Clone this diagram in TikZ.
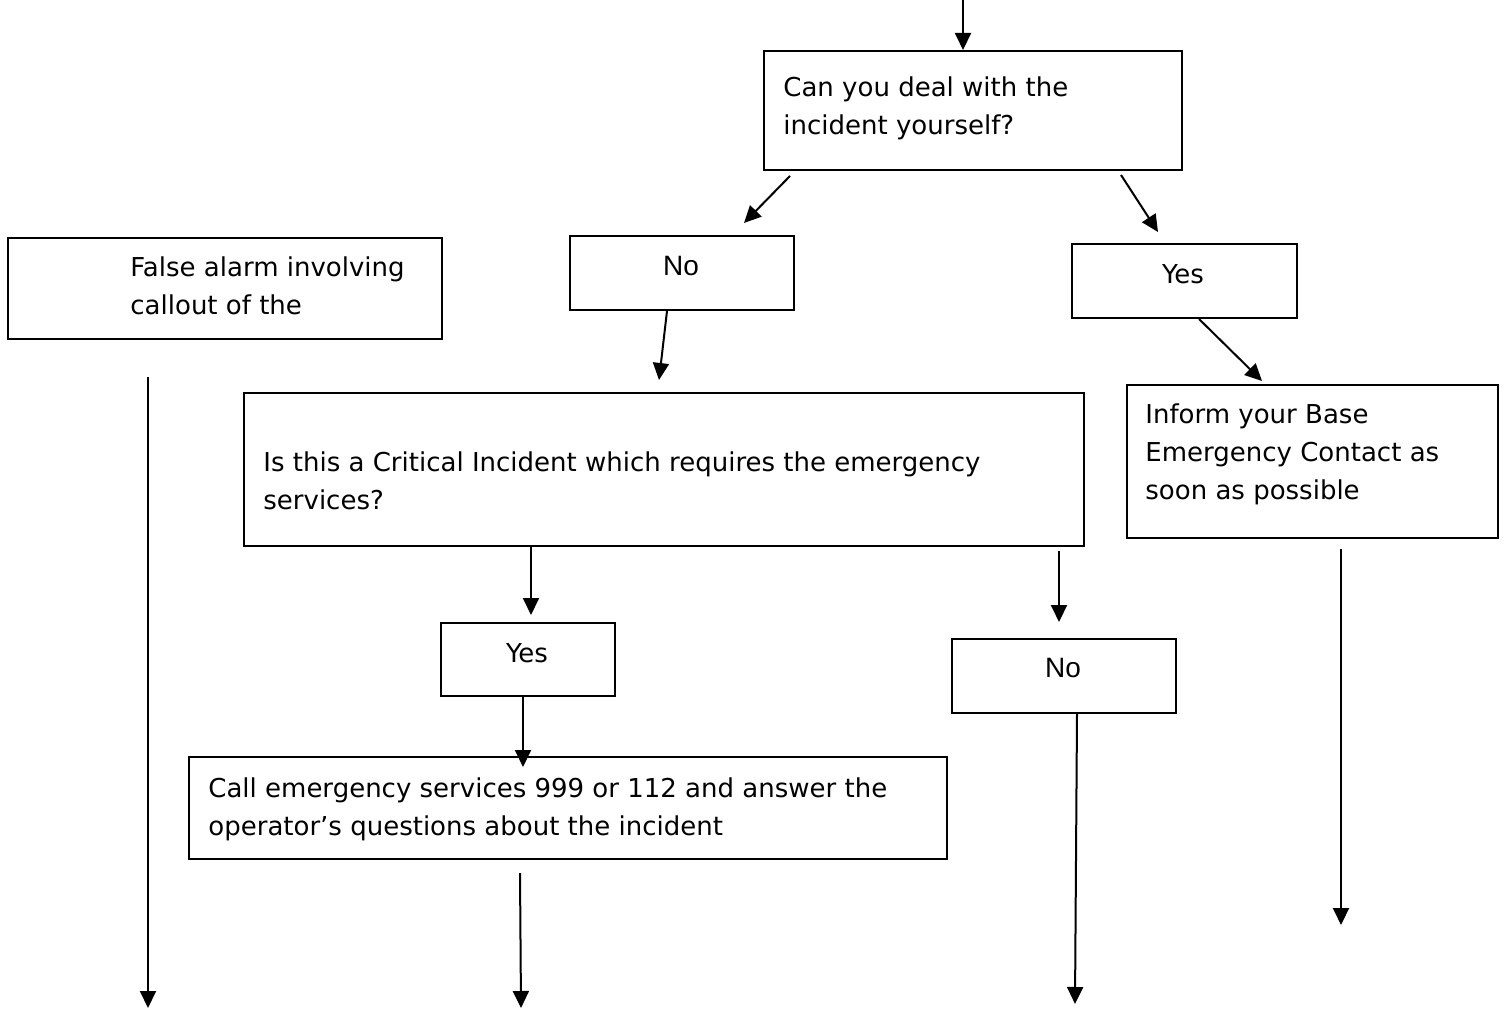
\documentclass[tikz,border=0pt]{standalone}
\usepackage{fontspec}
\setmainfont{DejaVu Sans}
\newfontfamily\arialfont{Liberation Sans}
\usetikzlibrary{arrows.meta,calc}
\newcommand\ml[1]{\parbox[t]{20cm}{\raggedright #1}}
\tikzset{
    box/.style={draw, line width=1pt, inner sep=0pt, anchor=north west},
    txt/.style={anchor=base west, inner sep=0pt, font=\fontsize{13}{19}\selectfont},
    word/.style={anchor=base, inner sep=0pt, font=\fontsize{13}{19}\selectfont},
    noword/.style={anchor=base, inner sep=0pt, font=\arialfont\fontsize{14}{19}\selectfont},
    arr/.style={line width=1pt, -{Triangle[length=8.5pt,width=8pt]}},
}
\begin{document}
\begin{tikzpicture}[x=0.5pt, y=-0.5pt]
    \useasboundingbox (0,0) rectangle (1509,1010);
    	% Boxes and texts:
    	\node[box, minimum width=209pt, minimum height=59.5pt] (ask) at (763,50){};
    	\node[txt] (askt) at (783,97){\ml{Can you deal with the\\incident yourself?}};
    	\node[box, minimum width=112pt, minimum height=37pt] (no1) at (569,235){};
    	\node[noword] (no1t) at (681,276){No};
    	\node[box, minimum width=112.5pt, minimum height=37pt] (yes1) at (1071,243){};
    	\node[word] (yes1t) at (1183,284){Yes};
    	\node[box, minimum width=217pt, minimum height=50.5pt] (alarm) at (7,237){};
    	\node[txt] (alarmt) at (130,277){\ml{False alarm involving\\callout of the}};
    	\node[box, minimum width=420pt, minimum height=76.5pt] (crit) at (243,392){};
    	\node[txt] (critt) at (263,471){\ml{Is this a Critical Incident which requires the emergency\\services?}};
    	\node[box, minimum width=185.5pt, minimum height=76.5pt] (inform) at (1126,384){};
    	\node[txt] (informt) at (1145,423){\ml{Inform your Base\\Emergency Contact as\\soon as possible}};
    	\node[box, minimum width=87pt, minimum height=36.5pt] (yes2) at (440,622){};
    	\node[word] (yes2t) at (527,662){Yes};
    	\node[box, minimum width=112pt, minimum height=37pt] (no2) at (951,638){};
    	\node[noword] (no2t) at (1063,677){No};
    	\node[box, minimum width=379pt, minimum height=51pt] (call) at (188,756){};
    	\node[txt] (callt) at (208,797){\ml{Call emergency services 999 or 112 and answer the\\operator's questions about the incident}};
    	% Free arrow ends:
    	\coordinate (top) at (963,0);
    	\coordinate (s1) at (790,176);
    	\coordinate (e1) at (744,223);
    	\coordinate (s2) at (1121,175);
    	\coordinate (e2) at (1158,232);
    	\coordinate (e3) at (659,380);
    	\coordinate (e4) at (1262,381);
    	\coordinate (e5) at (531,615);
    	\coordinate (s6) at (1059,551);
    	\coordinate (e6) at (1059,622);
    	\coordinate (e7) at (523,767);
    	\coordinate (s8) at (148,377);
    	\coordinate (e8) at (148,1008);
    	\coordinate (s9) at (520,873);
    	\coordinate (e9) at (521,1008);
    	\coordinate (e10) at (1075,1004);
    	\coordinate (s11) at (1341,549);
    	\coordinate (e11) at (1341,925);
    	% Arrows:
    	\draw[arr] (top) -- (top |- ask.north);
    	\draw[arr] (s1) -- (e1);
    	\draw[arr] (s2) -- (e2);
    	\draw[arr] ($(no1.south west)+(98,0)$) -- (e3);
    	\draw[arr] ($(yes1.south west)+(128,0)$) -- (e4);
    	\draw[arr] ($(crit.south west)+(288,0)$) -- (e5);
    	\draw[arr] (s6) -- (e6);
    	\draw[arr] ($(yes2.south west)+(83,0)$) -- (e7);
    	\draw[arr] (s8) -- (e8);
    	\draw[arr] (s9) -- (e9);
    	\draw[arr] ($(no2.south west)+(126,0)$) -- (e10);
    	\draw[arr] (s11) -- (e11);
\end{tikzpicture}
\end{document}
